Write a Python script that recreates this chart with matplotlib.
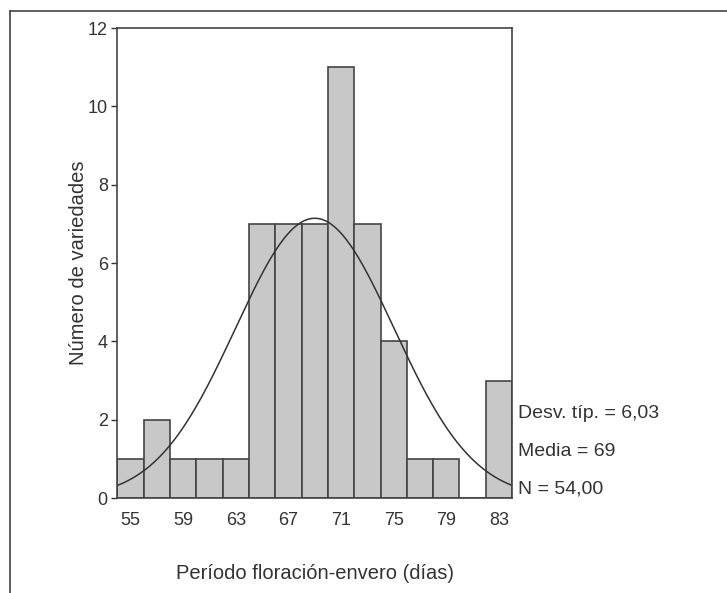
import numpy as np
import matplotlib.pyplot as plt
from matplotlib.lines import Line2D

plt.rcParams['font.family'] = ['Liberation Sans', 'DejaVu Sans']

# bin centres (días) and counts
centres = [55, 57, 59, 61, 63, 65, 67, 69, 71, 73, 75, 77, 79, 81, 83]
counts = [1, 2, 1, 1, 1, 7, 7, 7, 11, 7, 4, 1, 1, 0, 3]
xticks = [55, 59, 63, 67, 71, 75, 79, 83]
yticks = [0, 2, 4, 6, 8, 10, 12]
media = 69
desv = 6.03
n = 54
bin_w = 2

txt = '#333333'
edge = '#444444'

fig = plt.figure(figsize=(7.27, 5.93), dpi=100)
ax = fig.add_axes([0.1616, 0.16, 0.5427, 0.7926])

ax.bar(centres, counts, width=bin_w, color='#c8c8c8', edgecolor=edge, linewidth=1.2)

xs = np.linspace(54, 84, 300)
ys = n * bin_w / (desv * np.sqrt(2 * np.pi)) * np.exp(-0.5 * ((xs - media) / desv) ** 2)
ax.plot(xs, ys, color='#333333', linewidth=1.1)

ax.set_xlim(54, 84)
ax.set_ylim(0, 12)
ax.set_xticks(xticks)
ax.set_yticks(yticks)
ax.tick_params(axis='x', length=0, pad=10, labelsize=13, colors=txt)
ax.tick_params(axis='y', length=4, width=1, pad=3, labelsize=13, colors=txt)
for s in ax.spines.values():
    s.set_color(edge)
    s.set_linewidth(1.2)

ax.set_ylabel('Número de variedades', fontsize=14.5, color=txt, labelpad=0)
ax.set_xlabel('Período floración-envero (días)', fontsize=14.5, color=txt, labelpad=25)

stats = ['Desv. típ. = 6,03', 'Media = 69', 'N = 54,00']
for i, s in enumerate(stats):
    fig.text(0.713, 1 - (413 + 38 * i) / 593, s, fontsize=14, color=txt, va='center', ha='left')

# outer frame (top and left edges)
fig.add_artist(Line2D([0.0138, 1.0], [0.9815, 0.9815], transform=fig.transFigure, color='#444444', linewidth=1.2))
fig.add_artist(Line2D([0.0138, 0.0138], [0.0, 0.9815], transform=fig.transFigure, color='#444444', linewidth=1.2))

fig.savefig('out.png', dpi=100)
